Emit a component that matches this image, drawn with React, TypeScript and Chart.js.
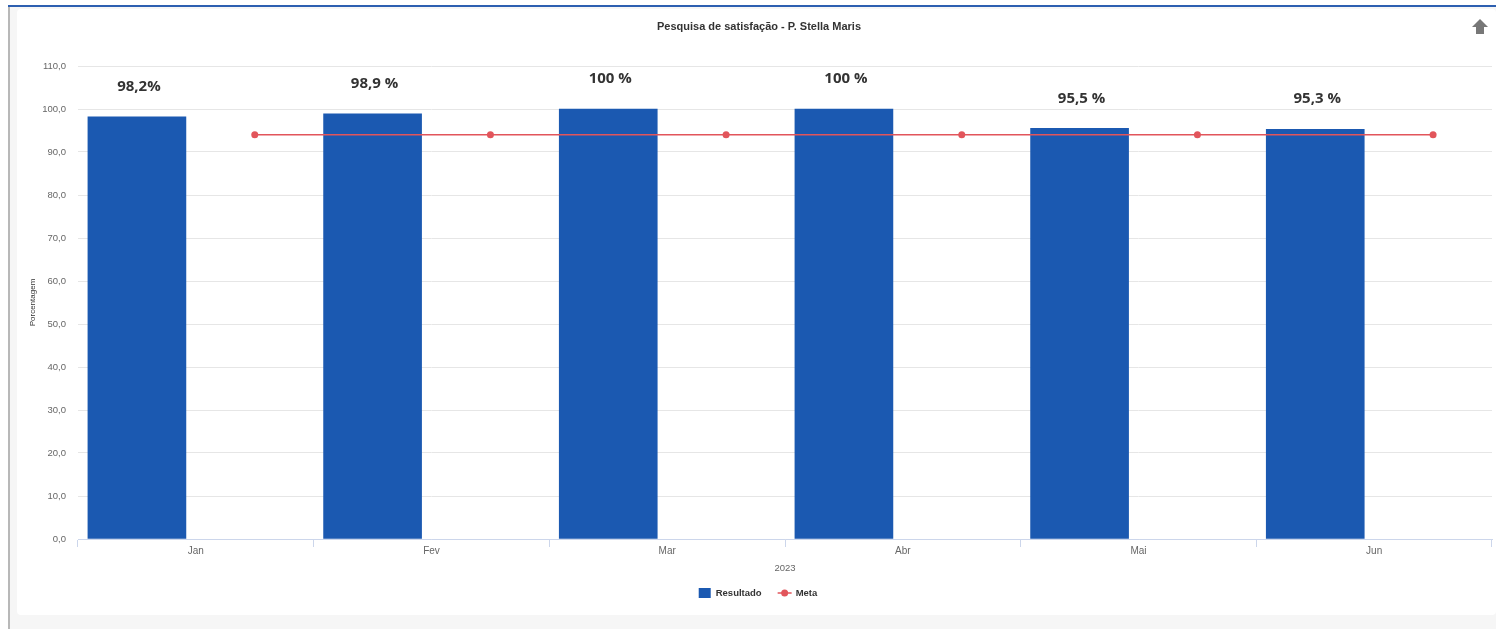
import React, { useEffect, useRef } from "react";
import { Chart, registerables } from "chart.js";

Chart.register(...registerables);

const W = 1496;
const H = 629;

const chartTitle = "Pesquisa de satisfação - P. Stella Maris";
const months = ["Jan", "Fev", "Mar", "Abr", "Mai", "Jun"];
const resultado = [98.2, 98.9, 100, 100, 95.5, 95.3];
const meta = [94, 94, 94, 94, 94, 94];
const valueLabels = ["98,2%", "98,9 %", "100 %", "100 %", "95,5 %", "95,3 %"];
const yAxisTitle = "Porcentagem";
const xAxisTitle = "2023";
const seriesNames = ["Resultado", "Meta"];
const yMin = 0;
const yMax = 110;
const yStep = 10;

const BAR_COLOR = "#1b59b1";
const META_COLOR = "#e2555b";
const SANS = '"Liberation Sans", Arial, sans-serif';

const decorPlugin = {
  id: "decor",
  beforeDraw(chart: any) {
    const ctx = chart.ctx;
    ctx.save();
    ctx.fillStyle = "#ffffff";
    ctx.fillRect(0, 0, W, H);
    ctx.fillStyle = "#f6f6f6";
    ctx.fillRect(10, 7, W - 10, H - 7);
    ctx.fillStyle = "#ffffff";
    ctx.beginPath();
    (ctx as any).roundRect(17, 9, W - 17, 606, 4);
    ctx.fill();
    ctx.fillStyle = "#b8b8b8";
    ctx.fillRect(8, 6, 2, H - 6);
    ctx.fillStyle = "#2d5fb0";
    ctx.fillRect(8, 5, W - 8, 2);
    ctx.restore();
  },
  afterDatasetsDraw(chart: any) {
    const ctx = chart.ctx;
    const bars = chart.getDatasetMeta(0).data;
    ctx.save();
    ctx.font = 'bold 15px "Open Sans", sans-serif';
    ctx.fillStyle = "#333333";
    ctx.textAlign = "center";
    ctx.textBaseline = "middle";
    bars.forEach((b: any, i: number) => {
      ctx.fillText(valueLabels[i], b.x + 2, b.y - 30);
    });
    ctx.restore();
  },
  afterDraw(chart: any) {
    const ctx = chart.ctx;
    ctx.save();
    // title
    ctx.font = `bold 11px ${SANS}`;
    ctx.fillStyle = "#333333";
    ctx.textAlign = "center";
    ctx.textBaseline = "middle";
    ctx.fillText(chartTitle, 759, 27);

    // legend
    ctx.font = `bold 9.5px ${SANS}`;
    const w1 = ctx.measureText(seriesNames[0]).width;
    const w2 = ctx.measureText(seriesNames[1]).width;
    const total = 12 + 5 + w1 + 16 + 14 + 4 + w2;
    let x = 758 - total / 2;
    const ly = 593;
    ctx.fillStyle = BAR_COLOR;
    ctx.fillRect(x, ly - 5, 12, 10);
    x += 17;
    ctx.fillStyle = "#333333";
    ctx.textAlign = "left";
    ctx.fillText(seriesNames[0], x, ly);
    x += w1 + 16;
    ctx.strokeStyle = META_COLOR;
    ctx.lineWidth = 1.5;
    ctx.beginPath();
    ctx.moveTo(x, ly);
    ctx.lineTo(x + 14, ly);
    ctx.stroke();
    ctx.fillStyle = META_COLOR;
    ctx.beginPath();
    ctx.arc(x + 7, ly, 3.5, 0, Math.PI * 2);
    ctx.fill();
    x += 18;
    ctx.fillStyle = "#333333";
    ctx.fillText(seriesNames[1], x, ly);

    // arrow icon
    ctx.fillStyle = "#777777";
    ctx.beginPath();
    ctx.moveTo(1480, 19);
    ctx.lineTo(1488, 27);
    ctx.lineTo(1484, 27);
    ctx.lineTo(1484, 34);
    ctx.lineTo(1476, 34);
    ctx.lineTo(1476, 27);
    ctx.lineTo(1472, 27);
    ctx.closePath();
    ctx.fill();
    ctx.restore();
  },
};

export default function App() {
  const ref = useRef<HTMLCanvasElement | null>(null);

  useEffect(() => {
    if (!ref.current) return;
    const chart = new Chart(ref.current, {
      type: "bar",
      data: {
        labels: months,
        datasets: [
          {
            type: "bar",
            label: seriesNames[0],
            data: resultado.map((v, i) => ({ x: i - 0.25, y: v })) as any,
            xAxisID: "x2",
            backgroundColor: BAR_COLOR,
            barThickness: 98,
            order: 1,
          },
          {
            type: "line",
            label: seriesNames[1],
            data: meta.map((v, i) => ({ x: i + 0.25, y: v })) as any,
            xAxisID: "x2",
            borderColor: META_COLOR,
            backgroundColor: META_COLOR,
            borderWidth: 1.5,
            pointRadius: 3.5,
            pointBorderWidth: 0,
            pointBackgroundColor: META_COLOR,
            order: 0,
          } as any,
        ],
      },
      options: {
        responsive: false,
        animation: false,
        devicePixelRatio: 1,
        layout: { padding: { left: 20, right: 4, top: 66, bottom: 50 } },
        plugins: {
          legend: { display: false },
          title: { display: false },
          tooltip: { enabled: false },
        },
        scales: {
          x: {
            type: "category",
            labels: months,
            offset: true,
            position: "bottom",
            grid: {
              offset: true,
              drawOnChartArea: false,
              drawTicks: true,
              tickLength: 8,
              color: "#ccd6eb",
            },
            border: { display: true, color: "#ccd6eb" },
            ticks: { color: "#666666", font: { family: SANS, size: 10 }, padding: -2 },
            title: {
              display: true,
              text: xAxisTitle,
              color: "#666666",
              font: { family: SANS, size: 9.5 },
              padding: { top: 0, bottom: 5 },
            },
            afterFit: (s: any) => {
              s.height = 40;
            },
          } as any,
          x2: {
            type: "linear",
            display: false,
            offset: false,
            grid: { offset: false },
            min: -0.5,
            max: 5.5,
          } as any,
          y: {
            min: yMin,
            max: yMax,
            ticks: {
              stepSize: yStep,
              color: "#666666",
              padding: 12,
              font: { family: SANS, size: 9.5 },
              callback: (v: any) => Number(v).toFixed(1).replace(".", ","),
            },
            grid: { color: "#e6e6e6", drawTicks: false },
            border: { display: false },
            title: {
              display: true,
              text: yAxisTitle,
              color: "#333333",
              font: { family: SANS, size: 8 },
              padding: { top: 8, bottom: 0 },
            },
            afterFit: (s: any) => {
              s.width = 58;
            },
          } as any,
        },
      },
      plugins: [decorPlugin],
    });
    return () => chart.destroy();
  }, []);

  return (
    <div style={{ position: "absolute", left: 0, top: 0, width: W, height: H }}>
      <canvas ref={ref} width={W} height={H} style={{ width: W, height: H, display: "block" }} />
    </div>
  );
}
